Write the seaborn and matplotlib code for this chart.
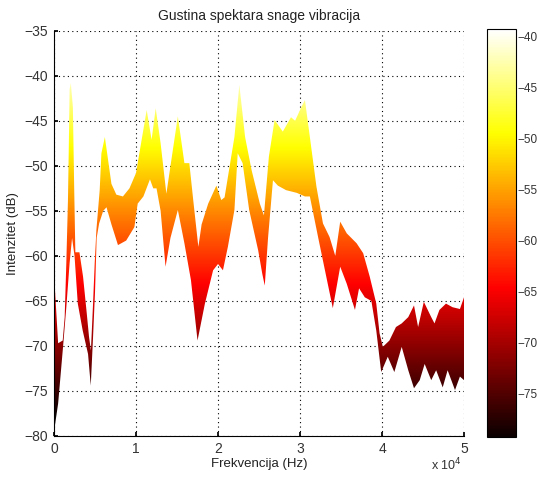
import numpy as np
import seaborn as sns
import matplotlib
matplotlib.use("Agg")
import matplotlib.pyplot as plt
from matplotlib.patches import Polygon

# upper edge of the spectrum band (kHz, dB)
freq_upper_khz = [0.0, 0.5, 1.06, 1.3, 1.5, 1.7, 1.8, 1.9, 2.05, 2.3, 2.45, 2.6, 3.1, 3.54,
                  3.95, 4.27, 4.5, 4.76, 4.96, 5.17, 5.37, 5.57, 5.78, 6.2, 6.6, 7.0, 7.6,
                  8.4, 9.2, 10.0, 11.3, 11.9, 12.4, 13.0, 13.7, 15.1, 15.9, 16.5, 17.0, 17.6,
                  18.0, 18.8, 19.8, 20.4, 20.8, 22.0, 22.6, 23.3, 24.1, 25.1, 25.6, 26.2,
                  26.9, 27.9, 28.9, 29.4, 30.2, 30.6, 31.2, 32.0, 32.8, 33.6, 34.3, 34.9,
                  35.7, 36.9, 37.7, 38.5, 39.3, 39.7, 40.1, 40.9, 41.7, 42.4, 43.2, 43.9,
                  44.4, 45.1, 46.0, 46.4, 47.0, 47.8, 48.6, 49.5, 50.0]
db_upper = [-62, -69.7, -69.4, -66.8, -60.8, -53.8, -48, -41.5, -40.8, -43.5, -52, -59.6,
            -59.6, -62.3, -66, -69, -70.5, -65.3, -60.8, -57.1, -54.9, -52.7, -48.6, -46.8,
            -49.4, -52, -53.2, -53.4, -52.5, -50.8, -43.8, -47.1, -43.6, -47.5, -53.1,
            -44.5, -49.7, -49.7, -54, -59, -56.5, -54.2, -52.2, -53.8, -53.5, -46.8, -41.0,
            -46.8, -50.5, -54.2, -55.5, -49, -44.9, -46.2, -44.6, -45, -43.4, -42.7, -46.8,
            -52.3, -56.4, -57.9, -60, -56.2, -57.5, -58.6, -59.7, -62.3, -65.3, -68.6,
            -70.1, -69.4, -67.9, -67.5, -66.8, -65.5, -67.9, -65.1, -66.8, -67.5, -66,
            -65.3, -65.7, -65.9, -64.6]

# lower edge of the spectrum band (kHz, dB)
freq_lower_khz = [0.0, 0.5, 1.1, 1.5, 1.9, 2.2, 2.5, 2.9, 3.5, 4.15, 4.48, 4.76, 5.0, 5.2,
                  5.5, 6.0, 6.4, 7.0, 7.8, 8.8, 9.8, 10.2, 10.9, 11.7, 12.1, 12.5, 13.0,
                  13.6, 14.2, 15.1, 15.9, 16.7, 17.5, 18.4, 19.4, 20.0, 20.6, 21.2, 22.0,
                  22.4, 23.0, 23.8, 24.9, 25.4, 25.7, 26.1, 26.7, 27.3, 28.3, 29.6, 30.6,
                  31.2, 32.2, 33.2, 34.0, 34.9, 35.7, 36.7, 37.2, 37.9, 38.7, 39.3, 39.9,
                  40.7, 41.5, 42.4, 43.2, 43.9, 44.6, 45.2, 46.0, 46.6, 47.4, 48.0, 48.9,
                  49.5, 50.0]
db_lower = [-79.5, -76.4, -70.1, -65.7, -60.8, -58, -60, -65.3, -68.3, -70.9, -74.4, -69,
            -64, -58, -56.4, -55, -54.6, -56.5, -58.8, -58.3, -56.8, -54.2, -53.4, -51.5,
            -52.5, -52.5, -55, -61.2, -58, -54.9, -58.6, -62.7, -69.4, -65.3, -61.6, -60.9,
            -61.6, -59, -54.9, -48.6, -49.7, -54.9, -59.4, -62, -63.3, -58, -51.6, -52.2,
            -52.7, -53, -53.4, -53.4, -57.9, -62.3, -65.8, -61.2, -63.1, -66.0, -63.6,
            -64.6, -65, -68.3, -72.9, -71.2, -72.9, -70.1, -72.7, -74.7, -73.8, -72, -73.8,
            -72.7, -74.6, -72.7, -74.9, -73.4, -73.8]

x_ticks = [0, 10000, 20000, 30000, 40000, 50000]
x_tick_labels = ["0", "1", "2", "3", "4", "5"]
y_ticks = [-80, -75, -70, -65, -60, -55, -50, -45, -40, -35]
cbar_ticks = [-75, -70, -65, -60, -55, -50, -45, -40]
c_min, c_max = -79.3, -39.3

sns.set_theme(style="white")
plt.rcParams["font.family"] = ["Liberation Sans", "DejaVu Sans"]

fig = plt.figure(figsize=(5.37, 4.79), dpi=100)
ax = fig.add_axes([0.1006, 0.0898, 0.7635, 0.846])
cax = fig.add_axes([0.907, 0.087, 0.054, 0.852])

fu = np.array(freq_upper_khz) * 1000
fl = np.array(freq_lower_khz) * 1000
verts = list(zip(fu, db_upper)) + list(zip(fl[::-1], db_lower[::-1]))
band = Polygon(verts, closed=True, facecolor="none", edgecolor="none",
               transform=ax.transData)
ax.add_patch(band)

# colour follows the intensity value (vertical gradient, hot colormap),
# surface faces look a little darker than their top edge
grad = np.linspace(-80, -35, 600).reshape(-1, 1) - 1.5
im = ax.imshow(grad, cmap="hot", vmin=c_min, vmax=c_max, origin="lower",
               extent=[0, 50000, -80, -35], aspect="auto", zorder=2)
im.set_clip_path(band)

ax.set_xlim(0, 50000)
ax.set_ylim(-80, -35)
ax.set_xticks(x_ticks)
ax.set_xticklabels(x_tick_labels)
ax.set_yticks(y_ticks)
ax.grid(True, color="black", linestyle=(0, (1, 3)), linewidth=0.8, zorder=0)
ax.set_axisbelow(True)
for s in ["top", "right"]:
    ax.spines[s].set_visible(False)
for s in ["left", "bottom"]:
    ax.spines[s].set_color("black")
    ax.spines[s].set_linewidth(0.8)
ax.tick_params(direction="in", length=3, colors="black", labelsize=10,
               left=True, bottom=True, pad=4)
for lbl in ax.get_xticklabels() + ax.get_yticklabels():
    lbl.set_color("#333333")

ax.set_title("Gustina spektara snage vibracija", fontsize=10, color="#222222", pad=8)
ax.set_xlabel("Frekvencija (Hz)", fontsize=9.5, color="#222222", labelpad=2)
ax.set_ylabel("Intenzitet (dB)", fontsize=9.5, color="#222222", labelpad=4)
ax.text(0.995, -0.052, "x 10$^4$", transform=ax.transAxes, ha="right", va="top",
        fontsize=9, color="#333333")

cb = fig.colorbar(im, cax=cax, ticks=cbar_ticks)
cb.outline.set_edgecolor("black")
cb.outline.set_linewidth(0.8)
cax.tick_params(direction="in", length=3, left=True, right=True, labelleft=False,
                labelright=True, labelsize=8.5, colors="black", pad=1)
for lbl in cax.get_yticklabels():
    lbl.set_color("#333333")

fig.savefig("out.png", dpi=100, facecolor="white")
